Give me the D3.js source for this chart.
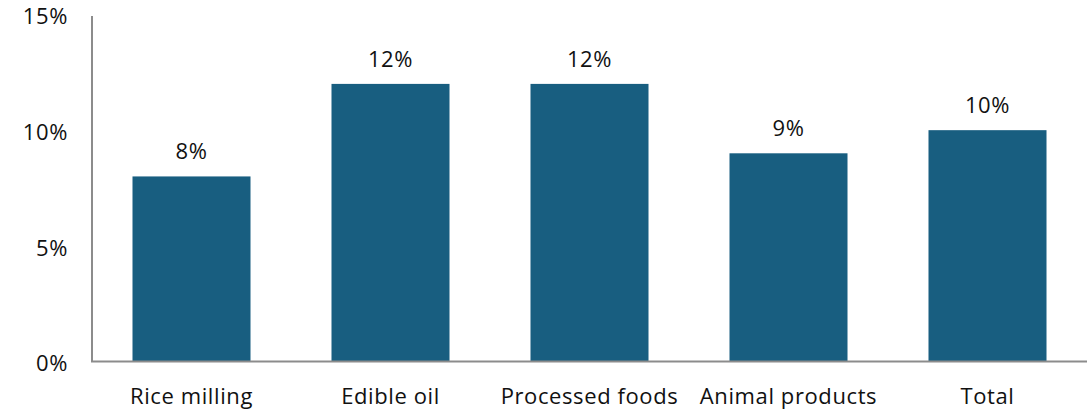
<!DOCTYPE html>
<html>
<head>
<meta charset="utf-8">
<script src="https://cdn.jsdelivr.net/npm/d3@7"></script>
<style>
  html, body { margin: 0; padding: 0; background: #fff; }
  svg { display: block; font-family: "Open Sans", sans-serif; }
</style>
</head>
<body>
<svg id="chart" width="1088" height="413"></svg>
<script>
const categories = ["Rice milling", "Edible oil", "Processed foods", "Animal products", "Total"];
const values = [8, 12, 12, 9, 10];
const valueLabels = ["8%", "12%", "12%", "9%", "10%"];
const yTicks = [0, 5, 10, 15];
const yTickLabels = ["0%", "5%", "10%", "15%"];

(function () {
const svg = d3.select("#chart");
const mLeft = 92, mRight = 1087, mTop = 14.5, mBottom = 361.5;
const fs = 22, ls = "0.6px";

const x = d3.scaleBand().domain(categories).range([mLeft, mRight])
  .paddingInner(0.407).paddingOuter(0.2035);
const y = d3.scaleLinear().domain([0, 15]).range([mBottom, mTop]);

const barColor = "#185e80";
const axisColor = "#8c8c8c";
const textColor = "#111";

// bars
svg.append("g").selectAll("rect").data(values).join("rect")
  .attr("x", (d, i) => x(categories[i]))
  .attr("y", d => y(d))
  .attr("width", x.bandwidth())
  .attr("height", d => y(0) - y(d))
  .attr("fill", barColor);

// value labels
svg.append("g").selectAll("text").data(values).join("text")
  .attr("x", (d, i) => x(categories[i]) + x.bandwidth() / 2)
  .attr("y", d => y(d) - 17)
  .attr("text-anchor", "middle")
  .attr("font-size", fs)
  .attr("letter-spacing", ls)
  .attr("fill", textColor)
  .text((d, i) => valueLabels[i]);

// y axis
const yAxis = d3.axisLeft(y).tickValues(yTicks).tickSize(0).tickPadding(24)
  .tickFormat((d, i) => yTickLabels[i]);
const gy = svg.append("g").attr("transform", `translate(${mLeft},0)`).call(yAxis);
gy.select(".domain").attr("stroke", axisColor).attr("stroke-width", 2)
  .attr("d", `M0,${y(15) + 1.5}V${y(0)}`);
gy.selectAll("text").attr("font-size", fs).attr("fill", textColor)
  .attr("letter-spacing", ls)
  .attr("dy", "0.43em")
  .attr("font-family", "Open Sans, sans-serif");

// x axis
const xAxis = d3.axisBottom(x).tickSize(0).tickPadding(27);
const gx = svg.append("g").attr("transform", `translate(0,${mBottom})`).call(xAxis);
gx.select(".domain").attr("stroke", axisColor).attr("stroke-width", 2)
  .attr("d", `M${mLeft - 1},0H${mRight}`);
gx.selectAll("text").attr("font-size", fs).attr("fill", textColor)
  .attr("letter-spacing", ls)
  .attr("font-family", "Open Sans, sans-serif");
})();
</script>
</body>
</html>
